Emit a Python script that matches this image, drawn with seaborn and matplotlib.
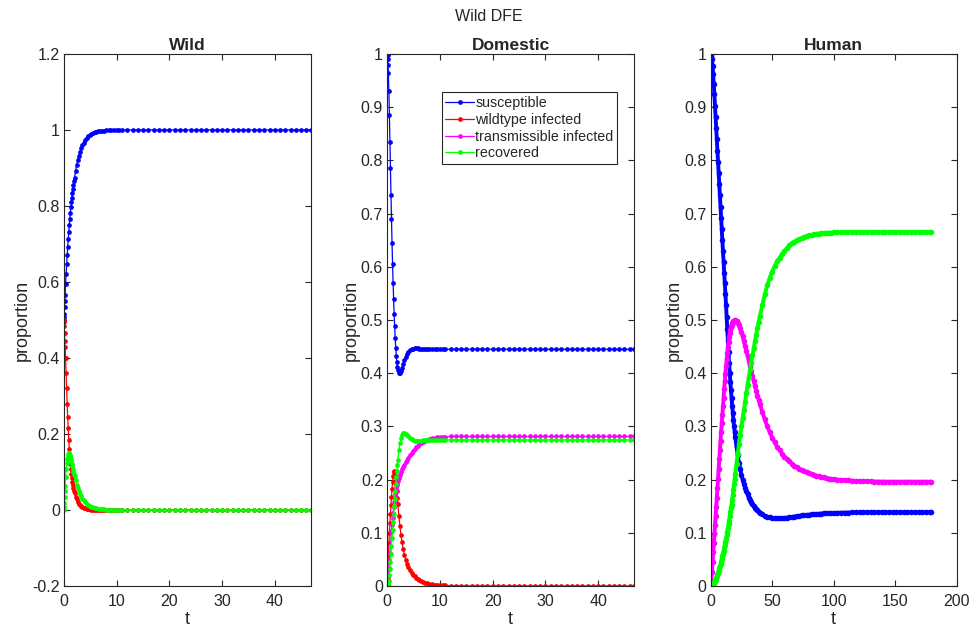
import seaborn as sns
import matplotlib.pyplot as plt
from matplotlib.ticker import FuncFormatter

# time points of the solver output (wild + domestic share one run)
t_wd = [
    0, 0.02, 0.05, 0.1, 0.15, 0.2, 0.3, 0.4, 0.5, 0.6, 0.7, 0.8,
    0.9, 1.0, 1.1, 1.2, 1.3, 1.4, 1.5, 1.6, 1.7, 1.8, 1.9, 2.0,
    2.2, 2.4, 2.6, 2.8, 3.0, 3.25, 3.5, 3.75, 4.0, 4.3, 4.6, 4.9, 5.2,
    5.5, 5.8, 6.1, 6.4, 6.8, 7.2, 7.6, 8.0, 8.5, 9.0, 9.5, 10.0, 10.5,
    11, 12, 13, 14, 15, 16, 17, 18, 19, 20, 21, 22, 23, 24, 25, 26, 27, 28,
    29, 30, 31, 32, 33, 34, 35, 36, 37, 38, 39, 40, 41, 42, 43, 44, 45, 46, 46.8,
]

wild_sus = [
    0.5, 0.507, 0.517, 0.533, 0.549, 0.565, 0.594, 0.621, 0.646, 0.670, 0.692, 0.712,
    0.731, 0.749, 0.766, 0.782, 0.796, 0.810, 0.822, 0.834, 0.845, 0.856, 0.865, 0.874,
    0.893, 0.908, 0.921, 0.932, 0.942, 0.952, 0.960, 0.967, 0.973, 0.978, 0.983, 0.987, 0.990,
    0.992, 0.994, 0.995, 0.996, 0.997, 0.998, 0.9985, 0.999, 0.9993, 0.9995, 0.9997, 0.9998, 0.9999,
    1.0, 1.0, 1.0, 1.0, 1.0, 1.0, 1.0, 1.0, 1.0, 1.0, 1.0, 1.0, 1.0, 1.0, 1.0, 1.0, 1.0, 1.0,
    1.0, 1.0, 1.0, 1.0, 1.0, 1.0, 1.0, 1.0, 1.0, 1.0, 1.0, 1.0, 1.0, 1.0, 1.0, 1.0, 1.0, 1.0, 1.0,
]
wild_wt = [
    0.5, 0.495, 0.485, 0.465, 0.445, 0.43, 0.40, 0.36, 0.32, 0.28, 0.245, 0.215,
    0.185, 0.16, 0.14, 0.122, 0.108, 0.095, 0.084, 0.074, 0.065, 0.057, 0.05, 0.044,
    0.035, 0.028, 0.022, 0.017, 0.013, 0.010, 0.008, 0.006, 0.0045, 0.0033, 0.0024, 0.0017, 0.0012,
    0.0008, 0.0006, 0.0004, 0.0003, 0.0002, 0.0001, 0, 0, 0, 0, 0, 0, 0,
    0, 0, 0, 0, 0, 0, 0, 0, 0, 0, 0, 0, 0, 0, 0, 0, 0, 0,
    0, 0, 0, 0, 0, 0, 0, 0, 0, 0, 0, 0, 0, 0, 0, 0, 0, 0, 0,
]
wild_rec = [
    0, 0.007, 0.018, 0.035, 0.05, 0.064, 0.088, 0.108, 0.123, 0.135, 0.143, 0.148,
    0.15, 0.149, 0.146, 0.141, 0.135, 0.129, 0.122, 0.115, 0.108, 0.101, 0.095, 0.089,
    0.078, 0.067, 0.058, 0.05, 0.043, 0.036, 0.03, 0.025, 0.021, 0.017, 0.014, 0.011, 0.009,
    0.007, 0.0055, 0.0045, 0.0035, 0.0025, 0.002, 0.0015, 0.001, 0.0007, 0.0005, 0.0003, 0.0002, 0.0001,
    0, 0, 0, 0, 0, 0, 0, 0, 0, 0, 0, 0, 0, 0, 0, 0, 0, 0,
    0, 0, 0, 0, 0, 0, 0, 0, 0, 0, 0, 0, 0, 0, 0, 0, 0, 0, 0,
]

dom_sus = [
    1.0, 1.0, 0.998, 0.99, 0.979, 0.965, 0.93, 0.885, 0.835, 0.785, 0.735, 0.69,
    0.645, 0.605, 0.57, 0.54, 0.512, 0.488, 0.466, 0.448, 0.433, 0.421, 0.412, 0.406,
    0.401, 0.401, 0.405, 0.41, 0.417, 0.425, 0.431, 0.436, 0.44, 0.443, 0.445, 0.446, 0.447,
    0.447, 0.447, 0.446, 0.446, 0.445, 0.445, 0.445, 0.445, 0.445, 0.445, 0.445, 0.445, 0.445,
    0.445, 0.445, 0.445, 0.445, 0.445, 0.445, 0.445, 0.445, 0.445, 0.445, 0.445, 0.445,
    0.445, 0.445, 0.445, 0.445, 0.445, 0.445, 0.445, 0.445, 0.445, 0.445, 0.445, 0.445,
    0.445, 0.445, 0.445, 0.445, 0.445, 0.445, 0.445, 0.445, 0.445, 0.445, 0.445, 0.445, 0.445,
]
dom_wt = [
    0, 0.005, 0.015, 0.03, 0.045, 0.058, 0.08, 0.1, 0.118, 0.135, 0.152, 0.167,
    0.182, 0.195, 0.206, 0.214, 0.217, 0.215, 0.209, 0.2, 0.19, 0.178, 0.166, 0.154,
    0.132, 0.112, 0.096, 0.082, 0.07, 0.058, 0.049, 0.042, 0.036, 0.03, 0.025, 0.021, 0.018,
    0.015, 0.013, 0.011, 0.0095, 0.008, 0.0065, 0.0055, 0.0045, 0.0035, 0.0028, 0.0022, 0.0017, 0.0013,
    0.001, 0.0006, 0.0004, 0.0002, 0.0001, 0, 0, 0, 0, 0, 0, 0, 0, 0, 0, 0, 0, 0,
    0, 0, 0, 0, 0, 0, 0, 0, 0, 0, 0, 0, 0, 0, 0, 0, 0, 0, 0,
]
dom_tr = [
    0, 0.001, 0.003, 0.008, 0.014, 0.02, 0.034, 0.048, 0.062, 0.076, 0.09, 0.103,
    0.115, 0.127, 0.138, 0.148, 0.157, 0.165, 0.172, 0.178, 0.184, 0.189, 0.193, 0.197,
    0.203, 0.209, 0.214, 0.219, 0.223, 0.228, 0.233, 0.237, 0.241, 0.246, 0.25, 0.254, 0.258,
    0.261, 0.264, 0.266, 0.268, 0.271, 0.273, 0.275, 0.2765, 0.278, 0.279, 0.2795, 0.28, 0.2803,
    0.2805, 0.281, 0.281, 0.281, 0.281, 0.281, 0.281, 0.281, 0.281, 0.281, 0.281, 0.281,
    0.281, 0.281, 0.281, 0.281, 0.281, 0.281, 0.281, 0.281, 0.281, 0.281, 0.281, 0.281,
    0.281, 0.281, 0.281, 0.281, 0.281, 0.281, 0.281, 0.281, 0.281, 0.281, 0.281, 0.281, 0.281,
]
dom_rec = [
    0, 0, 0.0003, 0.001, 0.002, 0.004, 0.01, 0.02, 0.032, 0.046, 0.06, 0.075,
    0.09, 0.105, 0.12, 0.135, 0.15, 0.164, 0.178, 0.191, 0.204, 0.216, 0.227, 0.237,
    0.255, 0.268, 0.278, 0.284, 0.287, 0.288, 0.2865, 0.284, 0.281, 0.278, 0.2755, 0.274, 0.273,
    0.2727, 0.2727, 0.273, 0.2733, 0.2737, 0.274, 0.2745, 0.2745, 0.2745, 0.2745, 0.2745, 0.2745, 0.2745,
    0.2745, 0.2745, 0.2745, 0.2745, 0.2745, 0.2745, 0.2745, 0.2745, 0.2745, 0.2745, 0.2745, 0.2745,
    0.2745, 0.2745, 0.2745, 0.2745, 0.2745, 0.2745, 0.2745, 0.2745, 0.2745, 0.2745, 0.2745, 0.2745,
    0.2745, 0.2745, 0.2745, 0.2745, 0.2745, 0.2745, 0.2745, 0.2745, 0.2745, 0.2745, 0.2745, 0.2745, 0.2745,
]

# human run is longer
t_hum = [
    0, 0.5, 1, 1.5, 2, 2.5, 3, 3.5, 4, 4.5, 5, 5.5, 6, 6.5, 7, 7.5, 8, 8.5, 9, 9.5,
    10, 10.5, 11, 11.5, 12, 12.5, 13, 13.5, 14, 14.5, 15, 15.5, 16, 16.5, 17, 17.5, 18, 18.5, 19, 19.5, 20,
    21, 22, 23, 24, 25, 26, 27, 28, 29, 30, 31, 32, 33, 34, 35, 36, 37, 38, 39, 40,
    42, 44, 46, 48, 50, 52, 54, 56, 58, 60, 62, 64, 66, 68, 70,
    72, 74, 76, 78, 80, 82, 84, 86, 88, 90, 92, 94, 96, 98, 100,
    103, 106, 109, 112, 115, 118, 121, 124, 127, 130, 133, 136, 139,
    142, 145, 148, 151, 154, 157, 160, 163, 166, 169, 172, 175, 178, 179,
]
hum_sus = [
    1.0, 0.997, 0.99, 0.978, 0.962, 0.944, 0.924, 0.903, 0.882, 0.861, 0.84, 0.818, 0.797, 0.776,
    0.755, 0.734, 0.713, 0.692, 0.671, 0.65,
    0.63, 0.609, 0.589, 0.569, 0.549, 0.528, 0.505, 0.483, 0.461, 0.44, 0.42, 0.401, 0.384, 0.368,
    0.353, 0.339, 0.325, 0.312, 0.3, 0.29, 0.28,
    0.262, 0.246, 0.232, 0.22, 0.209, 0.2, 0.192, 0.184, 0.178, 0.172, 0.166, 0.162, 0.157, 0.154,
    0.15, 0.147, 0.144, 0.142, 0.14, 0.138,
    0.135, 0.132, 0.13, 0.129, 0.128, 0.1275, 0.1272, 0.1272, 0.1275, 0.128, 0.1285, 0.129, 0.1297,
    0.1305, 0.131, 0.1318, 0.1325, 0.133, 0.1336, 0.134, 0.1346, 0.135, 0.1355, 0.1358, 0.1362,
    0.1365, 0.1368, 0.137, 0.1372, 0.1374,
    0.1376, 0.1378, 0.138, 0.1381, 0.1382, 0.1383, 0.1384, 0.1385, 0.1385, 0.1386, 0.1386, 0.1386,
    0.1386, 0.1386, 0.1386, 0.1386, 0.1386, 0.1386, 0.1386, 0.1386, 0.1386, 0.1386, 0.1386, 0.1386,
    0.1386, 0.1386, 0.1386,
]
hum_tr = [
    0, 0.012, 0.027, 0.045, 0.063, 0.08, 0.097, 0.114, 0.131, 0.149, 0.166, 0.184, 0.202, 0.22,
    0.238, 0.256, 0.273, 0.29, 0.306, 0.322,
    0.338, 0.354, 0.37, 0.385, 0.399, 0.413, 0.426, 0.438, 0.449, 0.459, 0.468, 0.476, 0.482, 0.487,
    0.491, 0.494, 0.496, 0.498, 0.499, 0.4995, 0.4995,
    0.498, 0.495, 0.49, 0.484, 0.477, 0.469, 0.46, 0.451, 0.442, 0.432, 0.423, 0.413, 0.404, 0.394,
    0.385, 0.376, 0.367, 0.358, 0.35, 0.342,
    0.327, 0.313, 0.3, 0.289, 0.279, 0.27, 0.262, 0.255, 0.249, 0.243, 0.238, 0.234, 0.23, 0.226,
    0.223, 0.22, 0.218, 0.216, 0.214, 0.212, 0.21, 0.209, 0.207, 0.206, 0.205, 0.204, 0.203, 0.202,
    0.2015, 0.201,
    0.2, 0.1995, 0.199, 0.1985, 0.198, 0.1977, 0.1974, 0.1971, 0.1968, 0.1966, 0.1964, 0.1963,
    0.1962, 0.1961, 0.196, 0.196, 0.196, 0.196, 0.196, 0.196, 0.196, 0.196, 0.196, 0.196,
    0.196, 0.196, 0.196,
]
hum_rec = [
    0, 0.0003, 0.001, 0.002, 0.003, 0.005, 0.007, 0.009, 0.012, 0.015, 0.018, 0.021, 0.025, 0.029,
    0.033, 0.037, 0.041, 0.046, 0.051, 0.056,
    0.061, 0.066, 0.071, 0.077, 0.083, 0.089, 0.095, 0.102, 0.109, 0.116, 0.123, 0.131, 0.139, 0.147,
    0.153, 0.162, 0.171, 0.181, 0.191, 0.201, 0.211,
    0.23, 0.249, 0.267, 0.284, 0.3, 0.316, 0.331, 0.346, 0.362, 0.378, 0.392, 0.406, 0.42, 0.434,
    0.447, 0.46, 0.472, 0.484, 0.496, 0.507,
    0.528, 0.548, 0.565, 0.579, 0.591, 0.601, 0.61, 0.617, 0.624, 0.63, 0.635, 0.64, 0.644, 0.647,
    0.65, 0.652, 0.654, 0.656, 0.6575, 0.659, 0.66, 0.661, 0.662, 0.6625, 0.663, 0.6635, 0.664,
    0.6642, 0.6644, 0.6645,
    0.6647, 0.6648, 0.6649, 0.665, 0.665, 0.665, 0.665, 0.665, 0.665, 0.665, 0.665, 0.665, 0.665,
    0.665, 0.665, 0.665, 0.665, 0.665, 0.665, 0.665, 0.665, 0.665, 0.665, 0.665, 0.665, 0.665,
    0.665,
]

labels = ["susceptible", "wildtype infected", "transmissible infected", "recovered"]
colors = ["#0000ff", "#ff0000", "#ff00ff", "#00ff00"]

sns.set_style("ticks")
plt.rcParams["font.family"] = ["Liberation Sans", "DejaVu Sans"]
plt.rcParams["xtick.direction"] = "in"
plt.rcParams["ytick.direction"] = "in"
plt.rcParams["xtick.top"] = True
plt.rcParams["ytick.right"] = True
plt.rcParams["axes.edgecolor"] = "#262626"
plt.rcParams["axes.linewidth"] = 0.8
plt.rcParams["xtick.color"] = "#262626"
plt.rcParams["ytick.color"] = "#262626"

fig = plt.figure(figsize=(9.77, 6.32), dpi=100)
ax_w = fig.add_axes([0.0655, 0.0728, 0.2525, 0.8418])
ax_d = fig.add_axes([0.3964, 0.0728, 0.2525, 0.8418])
ax_h = fig.add_axes([0.7274, 0.0728, 0.2518, 0.8418])


def draw(ax, t, series, idx, ms, lw):
    for vals, i in zip(series, idx):
        sns.lineplot(x=t, y=vals, ax=ax, color=colors[i], label=labels[i],
                     marker="o", markersize=ms, markeredgewidth=0,
                     linewidth=lw, legend=False)


draw(ax_w, t_wd, [wild_sus, wild_wt, wild_rec], [0, 1, 3], 3.4, 0.9)
draw(ax_d, t_wd, [dom_sus, dom_wt, dom_tr, dom_rec], [0, 1, 2, 3], 3.4, 0.9)
# the human run has very many solver steps, so its dots merge into a band
draw(ax_h, t_hum, [hum_sus, hum_tr, hum_rec], [0, 2, 3], 4.0, 2.8)

fmt = FuncFormatter(lambda v, p: f"{v:g}")
for ax, title in [(ax_w, "Wild"), (ax_d, "Domestic"), (ax_h, "Human")]:
    ax.set_title(title, fontsize=12.5, fontweight="bold", pad=3)
    ax.set_xlabel("t", fontsize=13, color="#262626", labelpad=1)
    ax.set_ylabel("proportion", fontsize=13, color="#262626", labelpad=1)
    ax.yaxis.set_major_formatter(fmt)
    ax.tick_params(axis="both", labelsize=11.5, length=4, width=0.8)
    ax.tick_params(axis="x", pad=6)
    ax.tick_params(axis="y", pad=3)

ax_w.set_xlim(0, 46.8)
ax_w.set_ylim(-0.2, 1.2)
ax_w.set_xticks([0, 10, 20, 30, 40])
ax_w.set_yticks([-0.2, 0, 0.2, 0.4, 0.6, 0.8, 1.0, 1.2])

ax_d.set_xlim(0, 46.8)
ax_d.set_ylim(0, 1)
ax_d.set_xticks([0, 10, 20, 30, 40])
ax_d.set_yticks([0, 0.1, 0.2, 0.3, 0.4, 0.5, 0.6, 0.7, 0.8, 0.9, 1.0])

ax_h.set_xlim(0, 200)
ax_h.set_ylim(0, 1)
ax_h.set_xticks([0, 50, 100, 150, 200])
ax_h.set_yticks([0, 0.1, 0.2, 0.3, 0.4, 0.5, 0.6, 0.7, 0.8, 0.9, 1.0])

leg = ax_d.legend(loc="upper left", bbox_to_anchor=(0.2205, 0.928), fontsize=10.3,
                  frameon=True, fancybox=False, borderaxespad=0, borderpad=0.25,
                  labelspacing=0.2, handlelength=2.0, handletextpad=0.1)
leg.get_frame().set_edgecolor("#262626")
leg.get_frame().set_linewidth(0.8)
leg.get_frame().set_alpha(1)

fig.suptitle("Wild DFE", fontsize=11.5, y=0.985)

fig.savefig("out.png", dpi=100)
